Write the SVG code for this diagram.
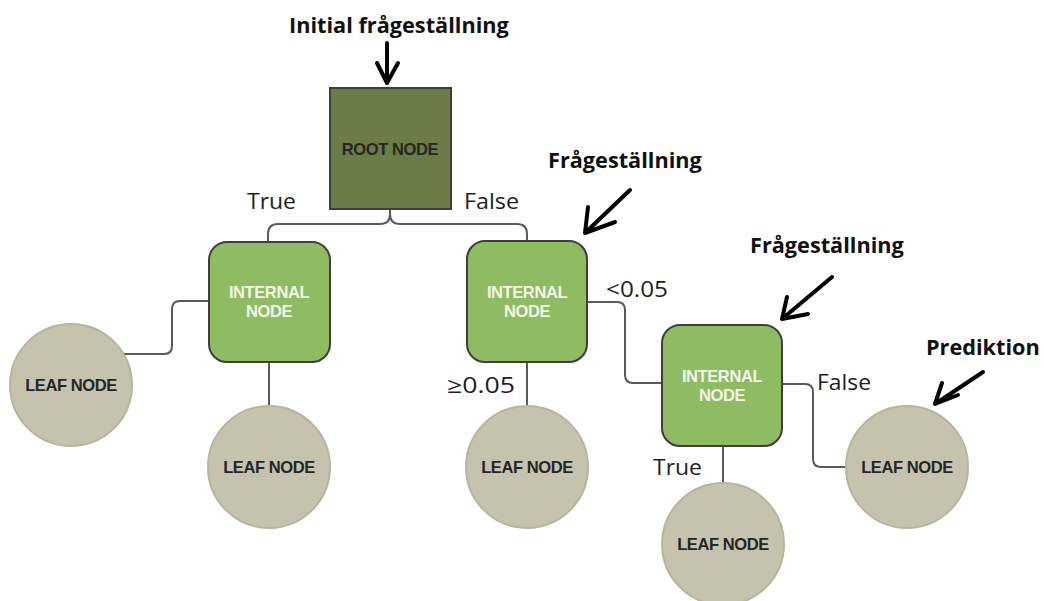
<svg xmlns="http://www.w3.org/2000/svg" width="1044" height="601" viewBox="0 0 1044 601">
<style>
.root{fill:#6b7c47;stroke:#3e3e3e;stroke-width:2}
.int{fill:#8fbb63;stroke:#3f3f3f;stroke-width:2}
.leaf{fill:#c5c3ae;stroke:#b7b59b;stroke-width:2}
.conn{fill:none;stroke:#5a5a5a;stroke-width:2}
.arr{fill:none;stroke:#000;stroke-width:4;stroke-linecap:round;stroke-linejoin:round}
.nt{font-family:"Liberation Sans",Arial,sans-serif;font-weight:bold;font-size:16.5px;text-anchor:middle;letter-spacing:-0.4px}
.dark{fill:#262626}
.light{fill:#f2f6ea}
.lbl{font-family:"Open Sans","Liberation Sans",sans-serif;font-size:22px;fill:#1e1e1e}
.ann{font-family:"Open Sans","Liberation Sans",sans-serif;font-weight:bold;font-size:21.7px;fill:#111}
</style>
<rect width="1044" height="601" fill="#fff"/>
<g id="connectors">
<path class="conn" d="M390,209 V214 Q390,224 380,224 H278 Q268,224 268,234 V242"/>
<path class="conn" d="M390,214 Q390,224 400,224 H517 Q527,224 527,234 V241"/>
<path class="conn" d="M209,301 H180 Q172,301 172,309 V346 Q172,354 164,354 H124"/>
<path class="conn" d="M269,362 V406"/>
<path class="conn" d="M527,362 V406"/>
<path class="conn" d="M587,302 H617 Q625,302 625,310 V375 Q625,383 633,383 H662"/>
<path class="conn" d="M782,384 H805 Q813,384 813,392 V459 Q813,467 821,467 H846"/>
<path class="conn" d="M723,446 V483"/>
</g>
<g id="root">
<rect class="root" x="330" y="88" width="121" height="121"/>
<text class="nt dark" x="390" y="155">ROOT NODE</text>
</g>
<g id="internal1">
<rect class="int" x="209" y="242" width="121" height="120" rx="18"/>
<text class="nt light" x="269" y="298">INTERNAL</text>
<text class="nt light" x="269" y="317">NODE</text>
</g>
<g id="internal2">
<rect class="int" x="467" y="241" width="120" height="121" rx="18"/>
<text class="nt light" x="527" y="298">INTERNAL</text>
<text class="nt light" x="527" y="317">NODE</text>
</g>
<g id="internal3">
<rect class="int" x="662" y="325" width="120" height="121" rx="18"/>
<text class="nt light" x="722" y="382">INTERNAL</text>
<text class="nt light" x="722" y="401">NODE</text>
</g>
<g id="leaf1">
<circle class="leaf" cx="71" cy="385" r="61"/>
<text class="nt dark" x="71" y="391">LEAF NODE</text>
</g>
<g id="leaf2">
<circle class="leaf" cx="269" cy="467" r="61"/>
<text class="nt dark" x="269" y="473">LEAF NODE</text>
</g>
<g id="leaf3">
<circle class="leaf" cx="527" cy="467" r="61"/>
<text class="nt dark" x="527" y="473">LEAF NODE</text>
</g>
<g id="leaf4">
<circle class="leaf" cx="723" cy="544" r="61"/>
<text class="nt dark" x="723" y="550">LEAF NODE</text>
</g>
<g id="leaf5">
<circle class="leaf" cx="907" cy="467" r="61"/>
<text class="nt dark" x="907" y="473">LEAF NODE</text>
</g>
<g id="labels">
<text class="lbl" x="247" y="209" textLength="49" lengthAdjust="spacingAndGlyphs">True</text>
<text class="lbl" x="464" y="209" textLength="55" lengthAdjust="spacingAndGlyphs">False</text>
<text class="lbl" x="606" y="297" textLength="62" lengthAdjust="spacingAndGlyphs">&lt;0.05</text>
<text class="lbl" x="447" y="393" textLength="68" lengthAdjust="spacingAndGlyphs">≥0.05</text>
<text class="lbl" x="817" y="390" textLength="54" lengthAdjust="spacingAndGlyphs">False</text>
<text class="lbl" x="653" y="475" textLength="49" lengthAdjust="spacingAndGlyphs">True</text>
</g>
<g id="annotations">
<text class="ann" x="289" y="33">Initial frågeställning</text>
<text class="ann" x="548" y="168">Frågeställning</text>
<text class="ann" x="750" y="253">Frågeställning</text>
<text class="ann" x="926" y="355">Prediktion</text>
<path class="arr" d="M387,43 V83 M377,63 L387,83 L398,63"/>
<path class="arr" d="M630,190 L585,233 M588,207 L585,233 L615,222"/>
<path class="arr" d="M832,277 L782,319 M787,297 L782,319 L808,314"/>
<path class="arr" d="M983,372 L935,404 M942,383 L935,404 L958,395"/>
</g>
</svg>
